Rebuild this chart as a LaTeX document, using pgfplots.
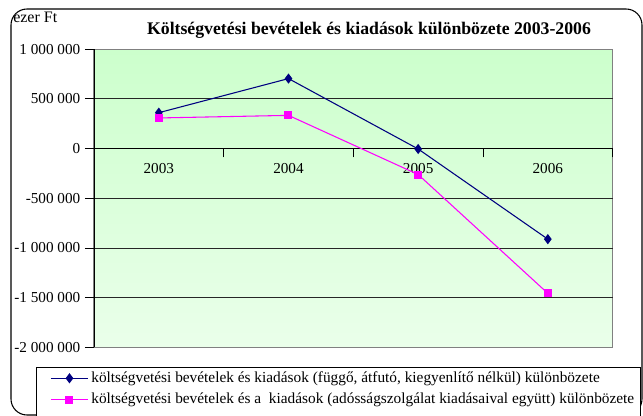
\documentclass[border=0pt]{standalone}
\usepackage{fontspec}
\setmainfont{Liberation Serif}
\usepackage{pgfplots}
\pgfplotsset{compat=1.18}
\definecolor{bgtop}{RGB}{204,255,204}
\definecolor{bgbot}{RGB}{234,255,234}
\definecolor{navyline}{RGB}{0,0,128}
\definecolor{pinkline}{RGB}{255,0,255}
\begin{document}
\begin{tikzpicture}[x=0.75pt,y=0.75pt]
\clip (0,0) rectangle (643,416);
\fill[white] (0,0) rectangle (643,416);
\draw[line width=0.8pt, rounded corners=12] (11,1) rectangle (642,407);
\draw[fill=white, line width=0.7pt] (36,-3) rectangle (640,49);
\node[font=\bfseries\fontsize{13.3}{15}\selectfont] at (369,386) {Költségvetési bevételek és kiadások különbözete 2003-2006};
\node[anchor=west, inner sep=0pt, font=\fontsize{12}{14}\selectfont] at (13,399) {ezer Ft};
\begin{axis}[
  at={(70.5pt,51.5pt)}, anchor=south west,
  scale only axis, width=389pt, height=223.7pt,
  xmin=-0.5, xmax=3.5, ymin=-2000000, ymax=1000000,
  axis x line=middle, axis y line=left,
  axis line style={-, black, line width=0.6pt},
  axis background/.style={top color=bgtop, bottom color=bgbot, draw=gray, line width=0.8pt},
  xtick={-0.5,0.5,1.5,2.5,3.5}, xticklabels={},
  extra x ticks={0,1,2,3}, extra x tick labels={2003,2004,2005,2006},
  extra x tick style={major tick length=0pt, grid=none, xticklabel style={yshift=-8pt}},
  ytick={-1500000,-1000000,-500000,0,500000},
  yticklabels={-1 500 000,-1 000 000,-500 000,0,500 000},
  extra y ticks={-2000000,1000000},
  extra y tick labels={-2 000 000,1 000 000},
  extra y tick style={grid=none},
  scaled y ticks=false,
  ymajorgrids, major grid style={black!85, line width=0.6pt},
  tick align=outside, major tick length=6.75pt,
  tick style={black, line width=0.6pt},
  /pgf/number format/assume math mode=true,
  ticklabel style={font=\fontsize{11.4}{13}\selectfont},
  legend style={at={(-0.0925,-0.059)}, anchor=north west, draw=none, fill=none,
    font=\fontsize{11.5}{13}\selectfont, row sep=2.5pt, inner xsep=3pt, inner ysep=3pt},
  legend cell align=left,
  legend image code/.code={\draw[#1, mark=none] (0pt,0pt) -- (28pt,0pt);
     \draw[#1, only marks] plot coordinates {(14pt,0pt)};},
]
\addplot[navyline, line width=0.8pt, mark=diamond*, mark size=3.2pt, mark options={fill=navyline}]
  coordinates {(0,360000) (1,703000) (2,-5000) (3,-912000)};
\addlegendentry{költségvetési bevételek és kiadások (függő, átfutó, kiegyenlítő nélkül) különbözete}
\addplot[pinkline, line width=0.8pt, mark=square*, mark size=2.6pt, mark options={fill=pinkline}]
  coordinates {(0,307000) (1,333000) (2,-262000) (3,-1457000)};
\addlegendentry{költségvetési bevételek és a\ \ kiadások (adósságszolgálat kiadásaival együtt) különbözete}
\end{axis}
\end{tikzpicture}
\end{document}
